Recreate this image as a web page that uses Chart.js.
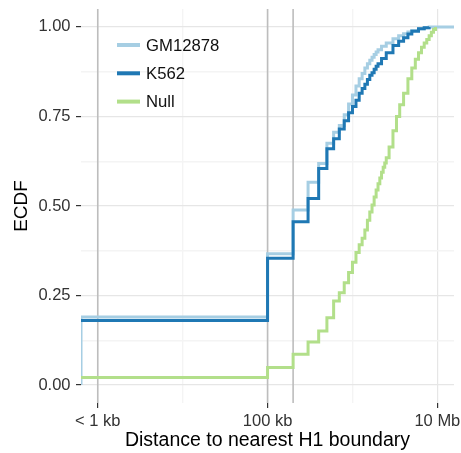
<!DOCTYPE html>
<html>
<head>
<meta charset="utf-8">
<title>ECDF of distance to nearest H1 boundary</title>
<script src="https://cdn.jsdelivr.net/npm/chart.js@4/dist/chart.umd.min.js"></script>
<style>
  html, body { margin: 0; padding: 0; background: #ffffff; }
  #wrap { width: 461px; height: 453px; }
</style>
</head>
<body>
<div id="wrap"><canvas id="ecdf" width="461" height="453"></canvas></div>
<script>
// Distance axis limits (bp); the smallest distances are grouped under "< 1 kb"
const X_MIN = 635;
const X_MAX = 15700000;
const Y_MIN = -0.05;
const Y_MAX = 1.05;

// Tick positions and labels
const xTickValues = [1e3, 1e4, 1e5, 1e6, 1e7];
const xTickLabels = ['< 1 kb', '', '100 kb', '', '10 Mb'];
const xMajorTicks = [1e3, 1e5, 1e7];
const yTickValues = [0, 0.125, 0.25, 0.375, 0.5, 0.625, 0.75, 0.875, 1];
const yMajorTicks = [0, 0.25, 0.5, 0.75, 1];

// Reference distances marked with vertical lines (bp)
const refLines = [1e3, 1e5, 2e5];

// GM12878: distance (bp) and cumulative fraction
const gmDist = [X_MIN, X_MIN, 1e5, 2e5, 3e5, 4e5, 5e5, 6e5, 7e5, 8e5, 9e5, 1e6,
  1.1e6, 1.2e6, 1.3e6, 1.4e6, 1.5e6, 1.6e6, 1.7e6, 1.8e6, 1.9e6, 2e6,
  2.2e6, 2.5e6, 3e6, 3.5e6, 4e6, 4.5e6, 5e6, 6e6, 7e6, 8e6, X_MAX];
const gmEcdf = [0, 0.19, 0.367, 0.489, 0.566, 0.619, 0.675, 0.706, 0.725, 0.755, 0.785, 0.81,
  0.835, 0.855, 0.87, 0.885, 0.897, 0.907, 0.915, 0.923, 0.93, 0.936,
  0.946, 0.955, 0.967, 0.975, 0.981, 0.986, 0.99, 0.995, 0.998, 1.0, 1.0];

// K562
const k562Dist = [X_MIN, 1e5, 2e5, 3e5, 4e5, 5e5, 6e5, 7e5, 8e5, 9e5, 1e6,
  1.1e6, 1.2e6, 1.3e6, 1.4e6, 1.5e6, 1.6e6, 1.7e6, 1.8e6, 1.9e6, 2e6,
  2.2e6, 2.5e6, 3e6, 3.5e6, 4e6, 4.5e6, 5e6, 6e6, 7e6, 8e6];
const k562Ecdf = [0.18, 0.354, 0.456, 0.521, 0.605, 0.66, 0.688, 0.715, 0.738, 0.76, 0.778,
  0.795, 0.815, 0.828, 0.84, 0.853, 0.865, 0.872, 0.882, 0.89, 0.897,
  0.912, 0.928, 0.948, 0.96, 0.97, 0.98, 0.988, 0.995, 0.998, 1.0];

// Null (random positions)
const nullDist = [X_MIN, 1e5, 2e5, 3e5, 4e5, 5e5, 6e5, 7e5, 8e5, 9e5, 1e6,
  1.1e6, 1.2e6, 1.3e6, 1.4e6, 1.5e6, 1.6e6, 1.7e6, 1.8e6, 1.9e6, 2e6,
  2.1e6, 2.2e6, 2.3e6, 2.4e6, 2.5e6, 2.7e6, 3e6, 3.3e6, 3.6e6, 4e6,
  4.5e6, 5e6, 5.5e6, 6e6, 6.5e6, 7e6, 7.5e6, 8e6, 8.5e6, 9e6, 9.5e6];
const nullEcdf = [0.021, 0.049, 0.086, 0.12, 0.151, 0.188, 0.235, 0.258, 0.286, 0.314, 0.343,
  0.37, 0.392, 0.41, 0.433, 0.46, 0.483, 0.503, 0.525, 0.545, 0.562,
  0.578, 0.594, 0.608, 0.62, 0.635, 0.665, 0.71, 0.75, 0.783, 0.815,
  0.855, 0.885, 0.91, 0.928, 0.943, 0.955, 0.965, 0.975, 0.985, 0.993, 1.0];

const seriesNames = ['GM12878', 'K562', 'Null'];
const seriesColors = ['#a6cee3', '#1f78b4', '#b2df8a'];

const toPoints = (xs, ys) => xs.map((x, i) => ({ x: x, y: ys[i] }));

const FONT = "'Liberation Sans', Arial, Helvetica, sans-serif";
Chart.defaults.font.family = FONT;
Chart.defaults.color = '#333333';

const stepStyle = {
  stepped: 'before',
  pointRadius: 0,
  borderWidth: 3,
  borderJoinStyle: 'miter',
  borderCapStyle: 'butt',
  fill: false,
  clip: 0
};

const datasets = [
  Object.assign({ label: seriesNames[0], data: toPoints(gmDist, gmEcdf),
    borderColor: seriesColors[0], order: 3 }, stepStyle),
  Object.assign({ label: seriesNames[1], data: toPoints(k562Dist, k562Ecdf),
    borderColor: seriesColors[1], order: 2 }, stepStyle),
  Object.assign({ label: seriesNames[2], data: toPoints(nullDist, nullEcdf),
    borderColor: seriesColors[2], order: 1 }, stepStyle)
];

refLines.forEach((d, i) => {
  datasets.push({
    label: 'ref' + i,
    data: [{ x: d, y: Y_MIN }, { x: d, y: Y_MAX }],
    borderColor: '#bdbdbd',
    borderWidth: 1.6,
    pointRadius: 0,
    fill: false,
    clip: 0,
    order: 10
  });
});

// Legend drawn inside the plotting panel, top-left
const insideLegend = {
  id: 'insideLegend',
  afterDatasetsDraw(chart) {
    const { ctx, chartArea } = chart;
    ctx.save();
    ctx.font = '16.7px ' + FONT;
    ctx.textBaseline = 'middle';
    ctx.textAlign = 'left';
    seriesNames.forEach((name, i) => {
      const y = chartArea.top + 36 + i * 28.3;
      ctx.strokeStyle = seriesColors[i];
      ctx.lineWidth = 4;
      ctx.lineCap = 'butt';
      ctx.beginPath();
      ctx.moveTo(chartArea.left + 36, y);
      ctx.lineTo(chartArea.left + 59, y);
      ctx.stroke();
      ctx.fillStyle = '#111111';
      ctx.fillText(name, chartArea.left + 65, y + 1);
    });
    ctx.restore();
  }
};

new Chart(document.getElementById('ecdf'), {
  type: 'line',
  data: { datasets: datasets },
  options: {
    responsive: false,
    devicePixelRatio: 1,
    animation: false,
    layout: { padding: { top: 9, right: 7, bottom: 0, left: 0 } },
    plugins: {
      legend: { display: false },
      tooltip: { enabled: false }
    },
    scales: {
      x: {
        type: 'logarithmic',
        position: 'bottom',
        min: X_MIN,
        max: X_MAX,
        afterBuildTicks: (scale) => {
          scale.ticks = xTickValues.map(v => ({ value: v }));
        },
        afterFit: (scale) => {
          scale.height = 50;
          scale.paddingLeft = 0;
          scale.paddingRight = 0;
        },
        border: { display: false },
        grid: {
          color: (c) => xMajorTicks.includes(c.tick && c.tick.value) ? '#e6e6e6' : '#f4f4f4',
          lineWidth: (c) => xMajorTicks.includes(c.tick && c.tick.value) ? 1.2 : 1.4,
          tickColor: (c) => xMajorTicks.includes(c.tick && c.tick.value) ? '#333333' : 'rgba(0,0,0,0)',
          tickWidth: 1.2,
          tickLength: 5
        },
        ticks: {
          autoSkip: false,
          maxRotation: 0,
          padding: 4,
          color: '#333333',
          font: { size: 16.5 },
          callback: (value) => {
            const i = xTickValues.indexOf(value);
            return i >= 0 ? xTickLabels[i] : '';
          }
        },
        title: {
          display: true,
          text: 'Distance to nearest H1 boundary',
          color: '#000000',
          font: { size: 19.5 },
          padding: { top: 0, bottom: 0.5 }
        }
      },
      y: {
        type: 'linear',
        min: Y_MIN,
        max: Y_MAX,
        afterBuildTicks: (scale) => {
          scale.ticks = yTickValues.map(v => ({ value: v }));
        },
        afterFit: (scale) => {
          scale.width = 81;
          scale.paddingTop = 0;
          scale.paddingBottom = 0;
        },
        border: { display: false },
        grid: {
          color: (c) => yMajorTicks.includes(c.tick && c.tick.value) ? '#e6e6e6' : '#f4f4f4',
          lineWidth: (c) => yMajorTicks.includes(c.tick && c.tick.value) ? 1.2 : 1.4,
          tickColor: (c) => yMajorTicks.includes(c.tick && c.tick.value) ? '#333333' : 'rgba(0,0,0,0)',
          tickWidth: 1.2,
          tickLength: 5
        },
        ticks: {
          padding: 5.5,
          color: '#333333',
          font: { size: 16.5 },
          callback: (value) => yMajorTicks.includes(value) ? value.toFixed(2) : ''
        },
        title: {
          display: true,
          text: 'ECDF',
          color: '#000000',
          font: { size: 19 },
          padding: { top: 10, bottom: 0 }
        }
      }
    }
  },
  plugins: [insideLegend]
});
</script>
</body>
</html>
